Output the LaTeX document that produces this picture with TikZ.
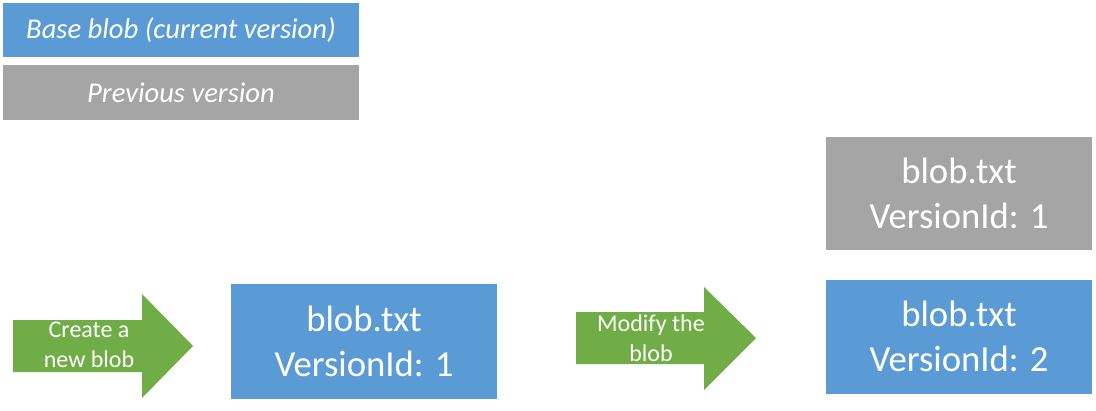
\documentclass[tikz,border=0pt]{standalone}
\usepackage{fontspec}
\setmainfont{Carlito}
\usetikzlibrary{positioning}
\definecolor{blobblue}{HTML}{5B9BD5}
\definecolor{blobgray}{HTML}{A5A5A5}
\definecolor{stepgreen}{HTML}{70AD47}
\tikzset{
    legendbox/.style={text=white, inner sep=0pt, minimum width=356pt,
        font=\fontsize{28.6}{34}\selectfont\itshape},
    blobbox/.style={text=white, inner sep=0pt, minimum width=266pt, align=center,
        font=\fontsize{36.7}{45}\selectfont},
    steptext/.style={text=white, inner sep=0pt, align=center,
        font=\fontsize{24}{29.5}\selectfont}
}
\begin{document}
\begin{tikzpicture}[x=1pt,y=-1pt]
        \useasboundingbox (0,0) rectangle (1096,410);
        %% legend
        \node[legendbox, fill=blobblue, minimum height=54pt] (legbase) at (181,30) {Base blob (current version)};
        \node[legendbox, fill=blobgray, minimum height=55pt] (legprev) at (181,92.5) {Previous version};
        %% step arrows
        \fill[stepgreen] (13,320) -- (142,320) -- (142,294) -- (193,346) -- (142,398) -- (142,372) -- (13,372) -- cycle;
        \node[steptext] (create) at (89,345) {Create a\\new blob};
        \fill[stepgreen] (576,312) -- (704,312) -- (704,287) -- (756,338) -- (704,390) -- (704,364) -- (576,364) -- cycle;
        \node[steptext] (modify) at (651,338) {Modify the\\blob};
        %% blobs
        \node[blobbox, fill=blobblue, minimum height=115pt] (blobone) at (364,341.5) {blob.txt\\VersionId: 1};
        \node[blobbox, fill=blobgray, minimum height=113pt] (blobold) at (959,193.5) {blob.txt\\VersionId: 1};
        \node[blobbox, fill=blobblue, minimum height=114pt] (blobtwo) at (959,336.5) {blob.txt\\VersionId: 2};
    \end{tikzpicture}
\end{document}
